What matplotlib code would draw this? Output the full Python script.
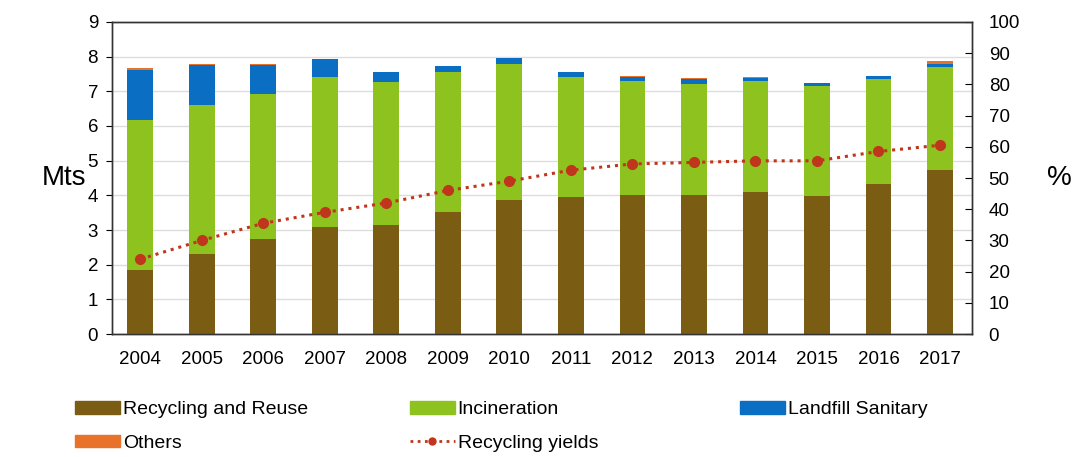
import numpy as np
import matplotlib.pyplot as plt
from matplotlib.patches import Patch
from matplotlib.lines import Line2D

years = ['2004', '2005', '2006', '2007', '2008', '2009', '2010',
         '2011', '2012', '2013', '2014', '2015', '2016', '2017']
recycling = [1.85, 2.32, 2.75, 3.08, 3.15, 3.52, 3.88, 3.95, 4.02, 4.02, 4.10, 3.98, 4.32, 4.72]
incineration = [4.32, 4.28, 4.18, 4.32, 4.13, 4.03, 3.90, 3.45, 3.28, 3.20, 3.20, 3.17, 3.03, 2.98]
landfill = [1.45, 1.15, 0.82, 0.52, 0.27, 0.17, 0.17, 0.15, 0.12, 0.13, 0.08, 0.08, 0.08, 0.08]
others = [0.06, 0.03, 0.03, 0.02, 0.02, 0.02, 0.02, 0.02, 0.02, 0.02, 0.02, 0.02, 0.02, 0.08]
yields = [24, 30, 35.5, 39, 42, 46, 49, 52.5, 54.5, 55, 55.5, 55.5, 58.5, 60.5]

c_rec = '#7a5c12'
c_inc = '#8dc21f'
c_land = '#0a6fc2'
c_oth = '#e8722a'
c_line = '#c0361c'

plt.rcParams['font.family'] = ['Liberation Sans', 'DejaVu Sans']

fig = plt.figure(figsize=(10.77, 4.57), dpi=100)
ax = fig.add_axes([0.104, 0.269, 0.7985, 0.683])
ax2 = ax.twinx()

x = np.arange(len(years))
w = 0.42
b1 = np.array(recycling)
b2 = b1 + np.array(incineration)
b3 = b2 + np.array(landfill)
ax.bar(x, recycling, w, color=c_rec, zorder=3)
ax.bar(x, incineration, w, bottom=b1, color=c_inc, zorder=3)
ax.bar(x, landfill, w, bottom=b2, color=c_land, zorder=3)
ax.bar(x, others, w, bottom=b3, color=c_oth, zorder=3)

ls = (0, (1, 1.6))
ax2.plot(x, yields, color=c_line, linestyle=ls, linewidth=2.2,
         marker='o', markersize=7, zorder=4)

ax.set_xlim(-0.46, 13.52)
ax.set_ylim(0, 9)
ax.set_yticks(range(0, 10))
ax2.set_ylim(0, 100)
ax2.set_yticks(range(0, 101, 10))
ax.set_xticks(x)
ax.set_xticklabels(years)
ax.grid(axis='y', color='#dddddd', linewidth=1, zorder=0)
ax.set_axisbelow(True)

for a in (ax, ax2):
    for s in a.spines.values():
        s.set_color('#333333')
        s.set_linewidth(1)
ax.tick_params(axis='y', labelsize=13.5, direction='out', length=4, pad=6)
ax.tick_params(axis='x', labelsize=13.5, length=0, pad=12)
ax2.tick_params(axis='y', labelsize=13.5, direction='in', length=5, pad=12)

ax.set_ylabel('Mts', fontsize=20, rotation=0, va='center', ha='right')
ax.yaxis.set_label_coords(-0.03, 0.5)
ax2.set_ylabel('%', fontsize=20, rotation=0, labelpad=28, va='center')

legend_kw = dict(loc='upper left', frameon=False, handlelength=2.3, handleheight=0.6,
                 handletextpad=0.15, labelspacing=0.85, borderpad=0, borderaxespad=0,
                 prop={'family': ['Liberation Sans'], 'size': 14})
cols = [
    ([Patch(color=c_rec), Patch(color=c_oth)], ['Recycling and Reuse', 'Others'], 75),
    ([Patch(color=c_inc),
      Line2D([], [], color=c_line, linestyle=ls, linewidth=2, marker='o', markersize=5)],
     ['Incineration', 'Recycling yields'], 410),
    ([Patch(color=c_land)], ['Landfill Sanitary'], 740),
]
for h, l, px in cols:
    fig.legend(h, l, bbox_to_anchor=(px / 1077, 0.122), **legend_kw)

fig.savefig('out.png', dpi=100)
